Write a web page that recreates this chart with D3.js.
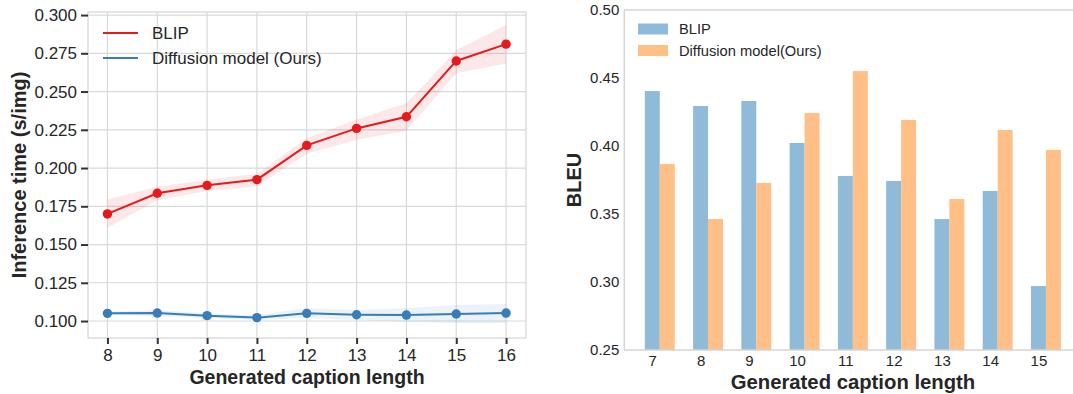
<!DOCTYPE html>
<html>
<head>
<meta charset="utf-8">
<script src="https://cdn.jsdelivr.net/npm/d3@7"></script>
<style>
  html, body { margin: 0; padding: 0; background: #fff; }
  svg { display: block; font-family: "Liberation Sans", Arial, sans-serif; }
</style>
</head>
<body>
<svg id="chart" width="1073" height="394"></svg>
<script>
// ---- left panel: inference time ----
const lengthsLeft = [8, 9, 10, 11, 12, 13, 14, 15, 16];
const blipTime = [0.170, 0.1835, 0.1887, 0.1924, 0.2148, 0.2259, 0.2335, 0.270, 0.281];
const blipTimeLo = [0.161, 0.179, 0.185, 0.188, 0.2094, 0.2185, 0.2244, 0.262, 0.2684];
const blipTimeHi = [0.1795, 0.1878, 0.1924, 0.1961, 0.2195, 0.2318, 0.2423, 0.277, 0.2935];
const diffTime = [0.1050, 0.1052, 0.1035, 0.1022, 0.1050, 0.1041, 0.1039, 0.1046, 0.1052];
const diffTimeLo = [0.1040, 0.1032, 0.1020, 0.1007, 0.1020, 0.1007, 0.0996, 0.0987, 0.0987];
const diffTimeHi = [0.1060, 0.1072, 0.1050, 0.1037, 0.1085, 0.1072, 0.1085, 0.1105, 0.1111];
const timeTicks = [0.100, 0.125, 0.150, 0.175, 0.200, 0.225, 0.250, 0.275, 0.300];

// ---- right panel: BLEU ----
const lengthsRight = [7, 8, 9, 10, 11, 12, 13, 14, 15];
const blipBleu = [0.4404, 0.4294, 0.4331, 0.4022, 0.378, 0.3743, 0.3463, 0.3669, 0.297];
const diffBleu = [0.3868, 0.3463, 0.3728, 0.4243, 0.4551, 0.4191, 0.361, 0.4118, 0.3971];
const bleuTicks = [0.25, 0.30, 0.35, 0.40, 0.45, 0.50];

const RED = "#e41a1c", BLUE = "#377eb8";
const BAR_BLUE = "#8fbbd9", BAR_ORANGE = "#ffbf86";
const TEXT = "#262626";

const svg = d3.select("#chart");

// ================= Left chart =================
(function () {
  const L = { left: 88, right: 526, top: 12, bottom: 338 };
  const x = d3.scaleLinear().domain([7.61, 16.4]).range([L.left, L.right]);
  const y = d3.scaleLinear().domain([0.0889, 0.302]).range([L.bottom, L.top]);
  const g = svg.append("g");

  // grid
  g.selectAll(".vgrid").data(lengthsLeft).enter().append("line")
    .attr("x1", d => x(d)).attr("x2", d => x(d))
    .attr("y1", L.top).attr("y2", L.bottom)
    .attr("stroke", "#d9d9d9").attr("stroke-width", 1.2);
  g.selectAll(".hgrid").data(timeTicks).enter().append("line")
    .attr("y1", d => y(d)).attr("y2", d => y(d))
    .attr("x1", L.left).attr("x2", L.right)
    .attr("stroke", "#d9d9d9").attr("stroke-width", 1.2);

  // frame
  g.append("rect")
    .attr("x", L.left).attr("y", L.top)
    .attr("width", L.right - L.left).attr("height", L.bottom - L.top)
    .attr("fill", "none").attr("stroke", "#d4d4d4").attr("stroke-width", 1.2);

  // axes
  const yAxis = g.append("g").attr("transform", `translate(${L.left},0)`)
    .call(d3.axisLeft(y).tickValues(timeTicks).tickFormat(d3.format(".3f")).tickSize(7).tickPadding(4));
  const xAxis = g.append("g").attr("transform", `translate(0,${L.bottom})`)
    .call(d3.axisBottom(x).tickValues(lengthsLeft).tickFormat(d3.format("d")).tickSize(6).tickPadding(5));
  [yAxis, xAxis].forEach(a => {
    a.select(".domain").remove();
    a.selectAll(".tick line").attr("stroke", "#333").attr("stroke-width", 2);
    a.selectAll(".tick text").attr("fill", TEXT).attr("font-size", 17);
  });

  const series = [
    { vals: blipTime, lo: blipTimeLo, hi: blipTimeHi, color: RED },
    { vals: diffTime, lo: diffTimeLo, hi: diffTimeHi, color: BLUE }
  ];
  const area = d3.area().x((d, i) => x(lengthsLeft[i])).y0(d => y(d[0])).y1(d => y(d[1]));
  const line = d3.line().x((d, i) => x(lengthsLeft[i])).y(d => y(d));

  series.forEach(s => {
    g.append("path").datum(s.lo.map((v, i) => [v, s.hi[i]]))
      .attr("d", area).attr("fill", s.color).attr("fill-opacity", 0.1);
    g.append("path").datum(s.vals).attr("d", line)
      .attr("fill", "none").attr("stroke", s.color).attr("stroke-width", 2);
    g.selectAll(null).data(s.vals).enter().append("circle")
      .attr("cx", (d, i) => x(lengthsLeft[i])).attr("cy", d => y(d))
      .attr("r", 4.7).attr("fill", s.color);
  });

  // legend
  const leg = [{ name: "BLIP", color: RED }, { name: "Diffusion model (Ours)", color: BLUE }];
  leg.forEach((d, i) => {
    const yy = 33 + i * 25;
    g.append("line").attr("x1", 103).attr("x2", 138).attr("y1", yy).attr("y2", yy)
      .attr("stroke", d.color).attr("stroke-width", 2);
    g.append("text").attr("x", 152).attr("y", yy).attr("dy", "0.35em")
      .attr("font-size", 17).attr("fill", TEXT).text(d.name);
  });

  // axis titles
  g.append("text").attr("x", 307).attr("y", 384)
    .attr("text-anchor", "middle").attr("font-size", 19.5).attr("font-weight", "bold")
    .attr("fill", TEXT).text("Generated caption length");
  g.append("text").attr("transform", `translate(26,${(L.top + L.bottom) / 2}) rotate(-90)`)
    .attr("text-anchor", "middle").attr("font-size", 20).attr("font-weight", "bold")
    .attr("fill", TEXT).text("Inference time (s/img)");
})();

// ================= Right chart =================
(function () {
  const R = { left: 624.3, right: 1073, top: 10, bottom: 350 };
  const barW = 0.31;
  const pxPerUnit = 48.27;
  const x = d3.scaleLinear().domain([6.42, 16]).range([R.left, R.left + (16 - 6.42) * pxPerUnit]);
  const y = d3.scaleLinear().domain([0.25, 0.50]).range([R.bottom, R.top]);
  const g = svg.append("g");

  // bars
  g.selectAll(".b1").data(blipBleu).enter().append("rect")
    .attr("x", (d, i) => x(lengthsRight[i] - barW / 2))
    .attr("width", x(barW) - x(0))
    .attr("y", d => y(d)).attr("height", d => y(0.25) - y(d))
    .attr("fill", BAR_BLUE);
  g.selectAll(".b2").data(diffBleu).enter().append("rect")
    .attr("x", (d, i) => x(lengthsRight[i] + barW / 2))
    .attr("width", x(barW) - x(0))
    .attr("y", d => y(d)).attr("height", d => y(0.25) - y(d))
    .attr("fill", BAR_ORANGE);

  // spines
  g.append("line").attr("x1", R.left).attr("x2", R.right).attr("y1", R.top).attr("y2", R.top)
    .attr("stroke", "#d4d4d4").attr("stroke-width", 1.5);
  g.append("line").attr("x1", R.left).attr("x2", R.right).attr("y1", R.bottom).attr("y2", R.bottom)
    .attr("stroke", "#d4d4d4").attr("stroke-width", 1.5);
  g.append("line").attr("x1", R.left).attr("x2", R.left).attr("y1", R.top).attr("y2", R.bottom)
    .attr("stroke", "#d4d4d4").attr("stroke-width", 1.5);

  const yAxis = g.append("g").attr("transform", `translate(${R.left},0)`)
    .call(d3.axisLeft(y).tickValues(bleuTicks).tickFormat(d3.format(".2f")).tickSize(0).tickPadding(5));
  const xAxis = g.append("g").attr("transform", `translate(0,${R.bottom})`)
    .call(d3.axisBottom(x).tickValues(lengthsRight).tickFormat(d3.format("d")).tickSize(0).tickPadding(5));
  [yAxis, xAxis].forEach(a => {
    a.select(".domain").remove();
    a.selectAll(".tick line").remove();
    a.selectAll(".tick text").attr("fill", TEXT).attr("font-size", 15);
  });

  // legend
  const leg = [{ name: "BLIP", color: BAR_BLUE }, { name: "Diffusion model(Ours)", color: BAR_ORANGE }];
  leg.forEach((d, i) => {
    const yy = 29 + i * 21.5;
    g.append("rect").attr("x", 638).attr("y", yy - 5.5).attr("width", 30).attr("height", 11)
      .attr("fill", d.color);
    g.append("text").attr("x", 679).attr("y", yy).attr("dy", "0.35em")
      .attr("font-size", 14.7).attr("fill", TEXT).text(d.name);
  });

  g.append("text").attr("x", 853).attr("y", 389)
    .attr("text-anchor", "middle").attr("font-size", 20.3).attr("font-weight", "bold")
    .attr("fill", TEXT).text("Generated caption length");
  g.append("text").attr("transform", `translate(581,180) rotate(-90)`)
    .attr("text-anchor", "middle").attr("font-size", 20).attr("font-weight", "bold")
    .attr("fill", TEXT).text("BLEU");
})();
</script>
</body>
</html>
